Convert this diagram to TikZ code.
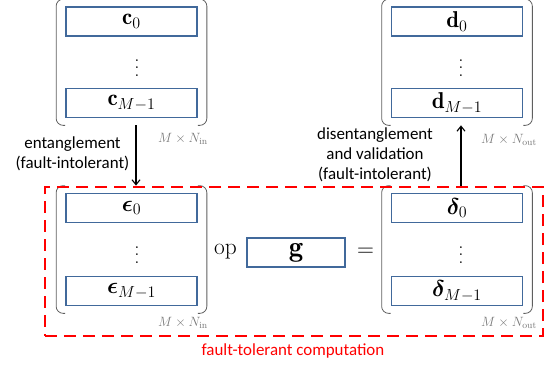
\RequirePackage{fix-cm}
\documentclass[tikz,border=0pt]{standalone}
\usepackage{fontspec}
\usepackage{bm}
\newfontfamily\calib{Carlito}
\usetikzlibrary{arrows.meta,fit}
\definecolor{boxblue}{RGB}{65,105,155}
\definecolor{brgray}{RGB}{95,95,95}
\definecolor{dimgray}{RGB}{120,120,120}
\newcommand\myvdots{\vbox{\baselineskip=7.5bp\lineskiplimit=-20bp\hbox{.}\hbox{.}\hbox{.}}}
\begin{document}
\begin{tikzpicture}[x=1bp,y=-1bp,
  vecbox/.style={draw=boxblue, line width=1.3bp, minimum width=131bp, minimum height=29bp, inner sep=0pt, font=\fontsize{23}{27}\selectfont},
  mathtxt/.style={inner sep=0pt, font=\fontsize{23.5}{27}\selectfont},
  dotsty/.style={inner sep=0pt, font=\fontsize{21}{25}\selectfont},
  matfit/.style={inner xsep=9bp, inner ysep=7bp},
  brk/.style={draw=brgray, line width=0.8bp, rounded corners=7bp},
  dimlab/.style={inner sep=0pt, text=dimgray, font=\fontsize{13.5}{16}\selectfont},
  arr/.style={draw=black, line width=1.1bp, -{Straight Barb[length=5bp,width=8bp]}},
  note/.style={inner sep=0pt, align=center, font=\calib\fontsize{17}{20}\selectfont},
  ftbox/.style={draw=red, line width=2.8bp, dash pattern=on 12bp off 7bp, minimum width=498bp, minimum height=149bp, inner sep=0pt}
]
\useasboundingbox (0,0) rectangle (550,364);

% top-left matrix
\node[vecbox] (c0) at (131.5,21.5) {$\mathbf{c}_0$};
\node[vecbox] (cM) at (131.5,103) {$\mathbf{c}_{M-1}$};
\node[dotsty] (cd) at (137,68) {\myvdots};
\node[matfit, fit=(c0)(cM)] (Mc) {};

% top-right matrix
\node[vecbox] (d0) at (457,21.5) {$\mathbf{d}_0$};
\node[vecbox] (dM) at (457,103) {$\mathbf{d}_{M-1}$};
\node[dotsty] (dd) at (461,68) {\myvdots};
\node[matfit, fit=(d0)(dM)] (Md) {};

% bottom-left matrix
\node[vecbox] (e0) at (131.5,208) {$\bm{\epsilon}_0$};
\node[vecbox] (eM) at (131.5,291) {$\bm{\epsilon}_{M-1}$};
\node[dotsty] (ed) at (137,255) {\myvdots};
\node[matfit, fit=(e0)(eM)] (Me) {};

% bottom-right matrix
\node[vecbox] (de0) at (457,208) {$\bm{\delta}_0$};
\node[vecbox] (deM) at (457,291) {$\bm{\delta}_{M-1}$};
\node[dotsty] (ded) at (461,255) {\myvdots};
\node[matfit, fit=(de0)(deM)] (Mde) {};

% op, g, =
\node[mathtxt] (op) at (225.5,252) {$\mathrm{op}$};
\node[vecbox, minimum width=98bp, font=\fontsize{29}{32}\selectfont] (g) at (296,252.5) {$\mathbf{g}$};
\node[mathtxt] (eq) at (365.5,252) {$=$};

% brackets
\foreach \m in {Mc,Md,Me,Mde}{
  \draw[brk] ([xshift=9bp]\m.north west) -- (\m.north west) -- (\m.south west) -- ([xshift=9bp]\m.south west);
  \draw[brk] ([xshift=-9bp]\m.north east) -- (\m.north east) -- (\m.south east) -- ([xshift=-9bp]\m.south east);
}

% dimension labels
\node[dimlab] (lc) at (183,139) {$M\times N_{\mathrm{in}}$};
\node[dimlab] (ld) at (509,140) {$M\times N_{\mathrm{out}}$};
\node[dimlab] (le) at (183,323) {$M\times N_{\mathrm{in}}$};
\node[dimlab] (lde) at (509,323) {$M\times N_{\mathrm{out}}$};

% fault-tolerant region
\node[ftbox] (ft) at (294,261.5) {};
\node[note, text=red] (ftl) at (293,351) {fault-tolerant computation};

% arrows
\draw[arr] ([xshift=4.5bp]Mc.south) -- ([xshift=4.5bp]Mc.south |- ft.north);
\draw[arr] ([xshift=4bp]Mde.north) -- ([xshift=4bp]Mde.north |- Md.south);

% notes
\node[note] (ent) at (72.5,154) {entanglement\\(fault-intolerant)};
\node[note] (dis) at (375,155) {disentanglement\\and validation\\(fault-intolerant)};
\end{tikzpicture}
\end{document}
